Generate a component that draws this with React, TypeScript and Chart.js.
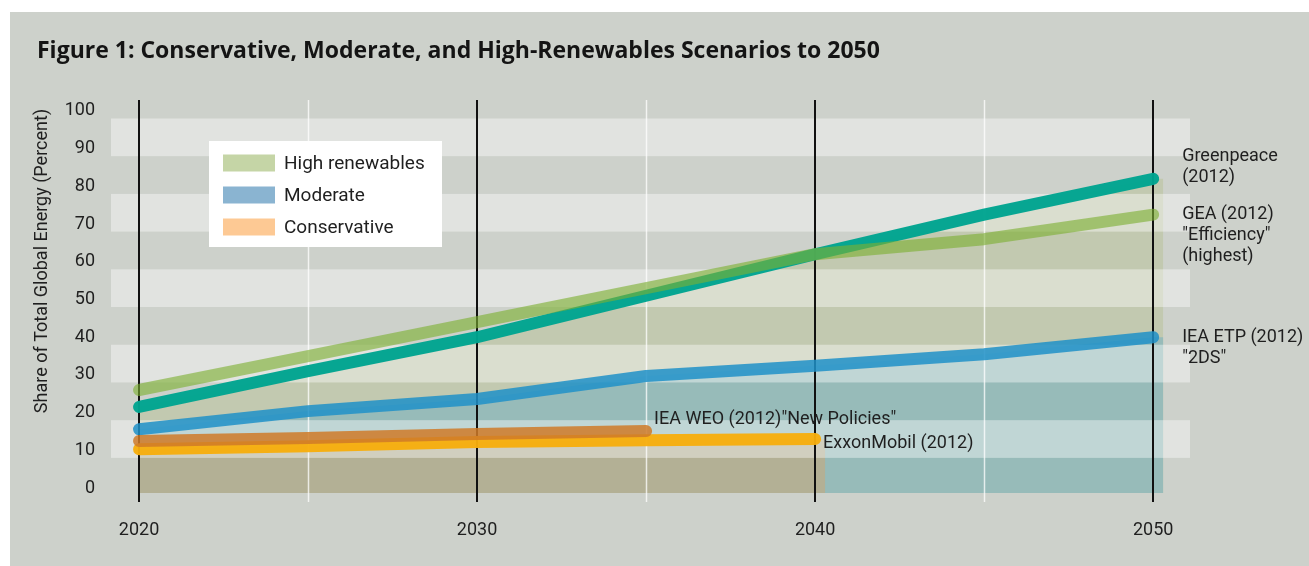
import React, { useEffect, useRef } from 'react';
import { Chart, registerables } from 'chart.js';

Chart.register(...registerables);

// ---------- text ----------
const TITLE = 'Figure 1: Conservative, Moderate, and High-Renewables Scenarios to 2050';
const Y_TITLE = 'Share of Total Global Energy (Percent)';

// ---------- axes ----------
const X_MAJOR = [2020, 2030, 2040, 2050];
const X_MINOR = [2025, 2035, 2045];
const Y_TICKS = [0, 10, 20, 30, 40, 50, 60, 70, 80, 90, 100];

// ---------- series (share of total global energy, %) ----------
const YEARS = [2020, 2025, 2030, 2035, 2040, 2045, 2050];
const GREENPEACE = [21.5, 31, 40, 51, 62, 72.5, 82];
const GEA = [26, 35, 44, 53, 62, 66, 72.5];
const IEA_ETP = [15.6, 20.4, 23.6, 29.7, 32.4, 35.5, 40];
const WEO_YEARS = [2020, 2025, 2030, 2035];
const IEA_WEO = [12.5, 13.3, 14.3, 15.1];
const EXXON_YEARS = [2020, 2025, 2030, 2035, 2040];
const EXXON = [10.3, 11.1, 12.2, 12.7, 13];

// ---------- legend ----------
const LEGEND_LABELS = ['High renewables', 'Moderate', 'Conservative'];
const LEGEND_COLORS = ['#c5d5a6', '#8ab4d1', '#fdc994'];

// ---------- series end labels ----------
const GREENPEACE_LABEL = ['Greenpeace', '(2012)'];
const GEA_LABEL = ['GEA (2012)', '"Efficiency"', '(highest)'];
const ETP_LABEL = ['IEA ETP (2012)', '"2DS"'];
const WEO_LABEL = ['IEA WEO (2012)"New Policies"'];
const EXXON_LABEL = ['ExxonMobil (2012)'];

// ---------- decoration ----------
const LIGHT_BANDS = [[98, 88], [78, 68], [58, 48], [38, 28], [18, 8]];
const AREA_BASE = -1.3;
const AREA_END_PAD = 0.3;

const FONT = 'Roboto, "Open Sans", sans-serif';
const TITLE_FONT = '"Open Sans", Roboto, sans-serif';
const TEXT = '#1f1f1f';

const pts = (xs: number[], ys: number[]) => xs.map((x, i) => ({ x, y: ys[i] }));
const areaPts = (xs: number[], ys: number[]) => {
  const p = pts(xs, ys);
  const l = p[p.length - 1];
  return [...p, { x: l.x + AREA_END_PAD, y: l.y }];
};

const area = (label: string, data: any[], color: string, order: number) => ({
  label,
  data,
  borderWidth: 0,
  borderColor: 'transparent',
  backgroundColor: color,
  pointRadius: 0,
  fill: { value: AREA_BASE },
  tension: 0,
  order,
});

const line = (label: string, data: any[], color: string, order: number) => ({
  label,
  data,
  borderWidth: 12,
  borderColor: color,
  borderCapStyle: 'round',
  borderJoinStyle: 'round',
  pointRadius: 0,
  fill: false,
  tension: 0,
  order,
});

// dataset indices
const IDX = { greenpeace: 3, gea: 4, etp: 5, weo: 6, exxon: 7 };

const decoPlugin = {
  id: 'deco',
  beforeDraw(chart: any) {
    const { ctx, width, height } = chart;
    ctx.save();
    ctx.fillStyle = '#ffffff';
    ctx.fillRect(0, 0, width, height);
    ctx.fillStyle = '#cdd1cb';
    ctx.fillRect(10, 12, width - 10, height - 12);
    ctx.restore();
  },
  beforeDatasetsDraw(chart: any) {
    const { ctx, chartArea } = chart;
    const x = chart.scales.x;
    const y = chart.scales.y;
    ctx.save();
    ctx.fillStyle = 'rgba(255,255,255,0.4)';
    LIGHT_BANDS.forEach(([a, b]) => {
      const t = y.getPixelForValue(a);
      const bt = y.getPixelForValue(b);
      ctx.fillRect(chartArea.left, t, chartArea.right - chartArea.left, bt - t);
    });
    ctx.lineWidth = 1.5;
    ctx.strokeStyle = 'rgba(255,255,255,0.75)';
    X_MINOR.forEach((v) => {
      const px = Math.round(x.getPixelForValue(v)) + 0.5;
      ctx.beginPath();
      ctx.moveTo(px, chartArea.top);
      ctx.lineTo(px, chartArea.bottom);
      ctx.stroke();
    });
    ctx.lineWidth = 2;
    ctx.strokeStyle = '#111111';
    X_MAJOR.forEach((v) => {
      const px = Math.round(x.getPixelForValue(v));
      ctx.beginPath();
      ctx.moveTo(px, chartArea.top);
      ctx.lineTo(px, chartArea.bottom);
      ctx.stroke();
    });
    ctx.restore();
  },
  afterDatasetsDraw(chart: any) {
    const { ctx } = chart;
    const xs = chart.scales.x;
    ctx.save();
    // title
    ctx.fillStyle = '#141414';
    ctx.font = `bold 23px ${TITLE_FONT}`;
    ctx.textAlign = 'left';
    ctx.textBaseline = 'middle';
    ctx.fillText(TITLE, 37, 51);
    // y title
    ctx.save();
    ctx.translate(42, 261);
    ctx.rotate(-Math.PI / 2);
    ctx.textAlign = 'center';
    ctx.font = `18px ${FONT}`;
    ctx.fillStyle = TEXT;
    ctx.fillText(Y_TITLE, 0, 0);
    ctx.restore();

    // legend
    ctx.fillStyle = '#ffffff';
    ctx.fillRect(209, 141, 233, 106);
    ctx.font = `19px ${FONT}`;
    LEGEND_LABELS.forEach((lab, i) => {
      const cy = 163 + i * 32;
      ctx.fillStyle = LEGEND_COLORS[i];
      ctx.fillRect(223, cy - 8.5, 52, 17);
      ctx.fillStyle = TEXT;
      ctx.fillText(lab, 284, cy + 1);
    });

    // end labels
    ctx.font = `18px ${FONT}`;
    ctx.fillStyle = TEXT;
    const endOf = (idx: number) => {
      const d = chart.getDatasetMeta(idx).data;
      return d[d.length - 1];
    };
    const rightX = xs.getPixelForValue(2050) + 29;
    const LH = 21;
    const drawLines = (lines: string[], x: number, y0: number) =>
      lines.forEach((t, i) => ctx.fillText(t, x, y0 + i * LH));
    const gp = endOf(IDX.greenpeace);
    drawLines(GREENPEACE_LABEL, rightX, gp.y - 1 - LH);
    const gea = endOf(IDX.gea);
    drawLines(GEA_LABEL, rightX, gea.y);
    const etp = endOf(IDX.etp);
    drawLines(ETP_LABEL, rightX, etp.y);
    const weo = endOf(IDX.weo);
    drawLines(WEO_LABEL, weo.x + 8, weo.y - 12);
    const ex = endOf(IDX.exxon);
    drawLines(EXXON_LABEL, ex.x + 8, ex.y + 4);
    ctx.restore();
  },
};

export default function App() {
  const ref = useRef<HTMLCanvasElement>(null);
  useEffect(() => {
    if (!ref.current) return;
    const chart = new Chart(ref.current, {
      type: 'line',
      data: {
        datasets: [
          area('Conservative', areaPts(EXXON_YEARS, EXXON), '#b3b095', 10),
          area('Moderate', areaPts(YEARS, IEA_ETP), '#97bbb9', 11),
          area('High renewables', areaPts(YEARS, GREENPEACE), '#c2c9b0', 12),
          line('Greenpeace (2012)', pts(YEARS, GREENPEACE), 'rgba(0,164,144,0.97)', 5),
          line('GEA (2012) "Efficiency"', pts(YEARS, GEA), 'rgba(125,176,50,0.62)', 4),
          line('IEA ETP (2012) "2DS"', pts(YEARS, IEA_ETP), 'rgba(30,145,200,0.85)', 3),
          line('IEA WEO (2012) "New Policies"', pts(WEO_YEARS, IEA_WEO), 'rgba(207,122,40,0.85)', 1),
          line('ExxonMobil (2012)', pts(EXXON_YEARS, EXXON), 'rgba(247,174,12,0.96)', 2),
        ] as any,
      },
      options: {
        animation: false,
        responsive: false,
        devicePixelRatio: 1,
        layout: { padding: { top: 100, left: 33, right: 119, bottom: 24 } },
        plugins: {
          legend: { display: false },
          title: { display: false },
          tooltip: { enabled: false },
          filler: { drawTime: 'beforeDatasetsDraw' },
        } as any,
        scales: {
          x: {
            type: 'linear',
            min: 2019.17,
            max: 2051.09,
            grid: { display: false, drawTicks: false },
            border: { display: false },
            afterFit: (s: any) => { s.height = 40; },
            afterBuildTicks: (s: any) => { s.ticks = X_MAJOR.map((v) => ({ value: v })); },
            ticks: {
              padding: 18,
              color: TEXT,
              font: { family: FONT, size: 18 },
              callback: (v: any) => String(v),
              maxRotation: 0,
            },
          },
          y: {
            type: 'linear',
            min: -3.7,
            max: 102.9,
            grid: { display: false, drawTicks: false },
            border: { display: false },
            afterFit: (s: any) => { s.width = 78; },
            afterBuildTicks: (s: any) => { s.ticks = Y_TICKS.map((v) => ({ value: v })); },
            ticks: {
              padding: 16,
              color: TEXT,
              font: { family: FONT, size: 18 },
              callback: (v: any) => String(v),
            },
          },
        },
      } as any,
      plugins: [decoPlugin],
    });
    return () => chart.destroy();
  }, []);
  return (
    <div style={{ position: 'absolute', left: 0, top: 0, width: 1309, height: 566 }}>
      <canvas ref={ref} width={1309} height={566} style={{ display: 'block' }} />
    </div>
  );
}
